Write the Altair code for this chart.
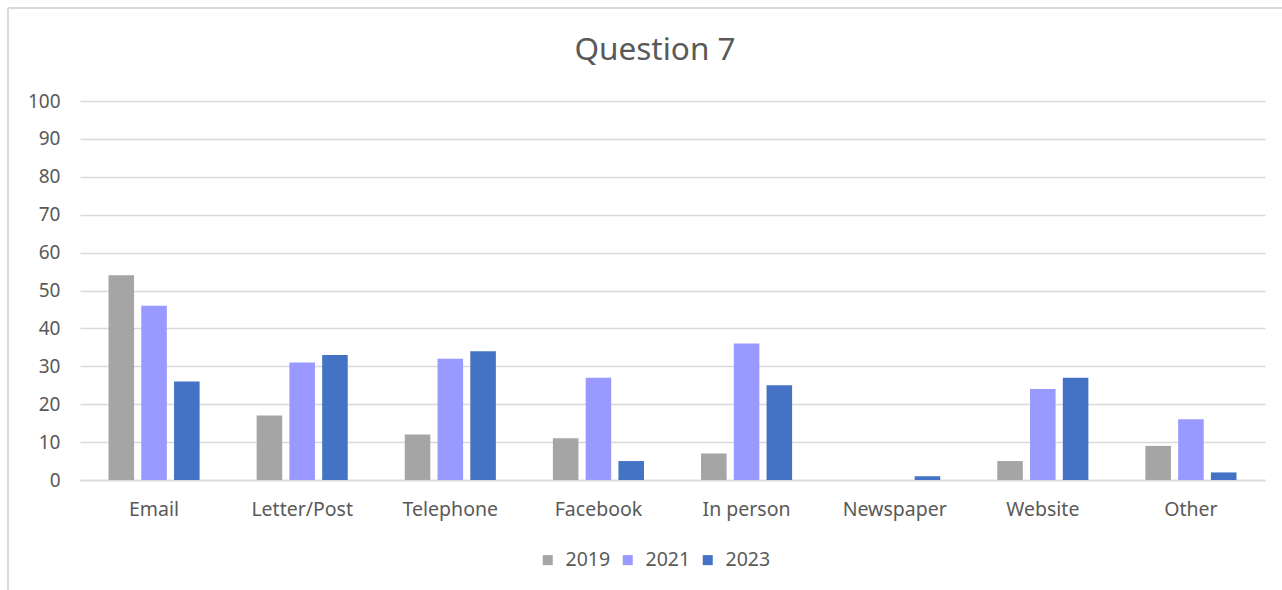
import altair as alt
import pandas as pd

categories = ["Email", "Letter/Post", "Telephone", "Facebook", "In person", "Newspaper", "Website", "Other"]
years = ["2019", "2021", "2023"]
v2019 = [54, 17, 12, 11, 7, 0, 5, 9]
v2021 = [46, 31, 32, 27, 36, 0, 24, 16]
v2023 = [26, 33, 34, 5, 25, 1, 27, 2]
colors = ["#A5A5A5", "#9999FF", "#4472C4"]
title_text = ["Question 7"]

rows = []
for yr, vals in zip(years, [v2019, v2021, v2023]):
    for c, v in zip(categories, vals):
        rows.append({"category": c, "year": yr, "value": v})
df = pd.DataFrame(rows)

FONT = "Noto Sans"
TXT = "#595959"
GRID = "#D9D9D9"

bars = alt.Chart(df).mark_bar().encode(
    x=alt.X("category:N", sort=categories, title=None,
            scale=alt.Scale(paddingInner=0.385, paddingOuter=0.1925),
            axis=alt.Axis(labelAngle=0, labelFontSize=19.5, labelColor=TXT, labelFont=FONT,
                          ticks=False, grid=False, domainColor=GRID, domainWidth=1.5,
                          labelPadding=20)),
    xOffset=alt.XOffset("year:N", sort=years, scale=alt.Scale(paddingInner=0.22, paddingOuter=0)),
    y=alt.Y("value:Q", title=None,
            scale=alt.Scale(domain=[0, 100], nice=False),
            axis=alt.Axis(values=list(range(0, 101, 10)), labelFontSize=19, labelColor=TXT,
                          labelFont=FONT, ticks=False, domain=False, gridColor=GRID,
                          gridWidth=1.5, labelPadding=20)),
    color=alt.Color("year:N", sort=years, title=None,
                    scale=alt.Scale(domain=years, range=colors),
                    legend=alt.Legend(orient="none", direction="horizontal",
                                      legendX=458, legendY=449, symbolType="square",
                                      symbolSize=100, symbolStrokeWidth=0,
                                      labelFontSize=19.5, labelColor=TXT, labelFont=FONT,
                                      labelOffset=8, columnPadding=7)),
)

title = alt.Chart(pd.DataFrame({"t": title_text})).mark_text(
    font=FONT, fontSize=31.5, color=TXT, align="center", baseline="alphabetic"
).encode(text="t:N", x=alt.value(575), y=alt.value(-41))

frame_left = alt.Chart(df).mark_rule(color=GRID, strokeWidth=2).encode(
    x=alt.value(-72), y=alt.value(-93), y2=alt.value(520))
frame_top = alt.Chart(df).mark_rule(color=GRID, strokeWidth=2).encode(
    x=alt.value(-72), x2=alt.value(1220), y=alt.value(-93))

chart = alt.layer(frame_left, frame_top, title, bars).properties(
    width=1185, height=379,
    padding={"left": 80, "top": 101, "right": 17, "bottom": 110},
    autosize=alt.AutoSizeParams(type="none"),
    background="white",
).configure_view(stroke=None, strokeWidth=0)

chart.save("out.html", embed_options={"renderer": "svg", "actions": False})
